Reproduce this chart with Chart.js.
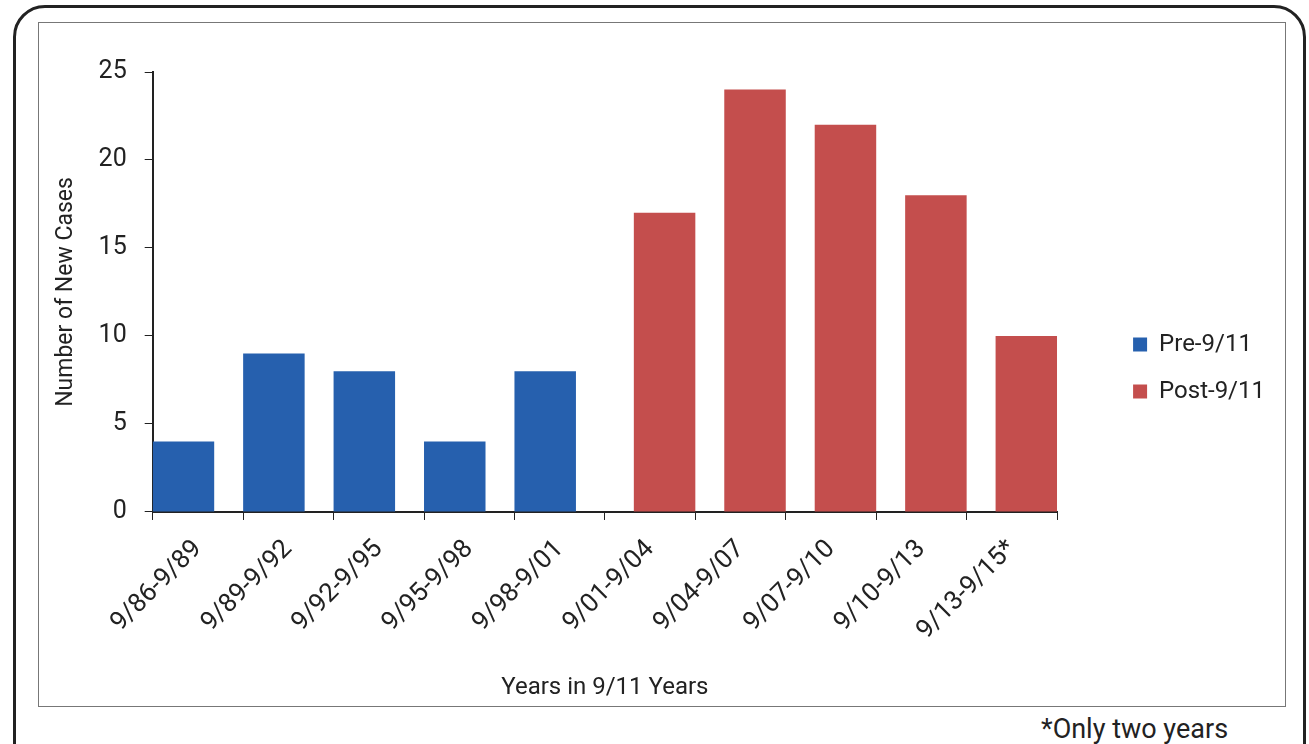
<!DOCTYPE html>
<html>
<head>
<meta charset="utf-8">
<script src="https://cdn.jsdelivr.net/npm/chart.js@4.4.0/dist/chart.umd.min.js"></script>
<style>
    html, body { margin: 0; padding: 0; background: #fff; overflow: hidden; }
    body { width: 1309px; height: 744px; position: relative; }
    .frame {
        position: absolute; left: 13px; top: 5px; width: 1287px; height: 780px;
        border: 3px solid #222; border-radius: 32px;
    }
    .inner {
        position: absolute; left: 38px; top: 22px; width: 1246px; height: 683px;
        border: 1.5px solid #777;
    }
    #chartBox { position: absolute; left: 39px; top: 23px; width: 1246px; height: 683px; }
    .note {
        position: absolute; left: 1041px; top: 713px;
        font: 27px "Roboto", sans-serif; color: #222;
    }
</style>
</head>
<body>
<div class="frame"></div>
<div class="inner"></div>
<div id="chartBox"><canvas id="chart"></canvas></div>
<div class="note">*Only two years</div>

<script>
    const periods = ['9/86-9/89', '9/89-9/92', '9/92-9/95', '9/95-9/98', '9/98-9/01',
                     '9/01-9/04', '9/04-9/07', '9/07-9/10', '9/10-9/13', '9/13-9/15*'];
    const preCases = [4, 9, 8, 4, 8, null, null, null, null, null];
    const postCases = [null, null, null, null, null, 17, 24, 22, 18, 10];
    const yTicks = [0, 5, 10, 15, 20, 25];

    const FONT = '"Roboto", sans-serif';
    const INK = '#222';

    // nudge the legend box away from the plot, like the original layout
    const legendShift = {
        id: 'legendShift',
        afterLayout(chart) {
            const lg = chart.legend;
            const dx = 53, dy = -21;
            lg.left += dx; lg.right += dx;
            lg.top += dy; lg.bottom += dy;
        }
    };

    const ctx = document.getElementById('chart').getContext('2d');
    new Chart(ctx, {
        type: 'bar',
        data: {
            labels: periods,
            datasets: [
                { label: 'Pre-9/11', data: preCases, backgroundColor: '#2660AE', borderWidth: 0 },
                { label: 'Post-9/11', data: postCases, backgroundColor: '#C44E4D', borderWidth: 0 }
            ]
        },
        plugins: [legendShift],
        options: {
            responsive: true,
            maintainAspectRatio: false,
            animation: false,
            layout: { padding: { top: 49, left: 9, right: 63, bottom: 0 } },
            // grouped + overlapping bars: pre sits to the left of each slot, post to the right
            datasets: { bar: { barPercentage: 2.125, categoryPercentage: 0.64 } },
            plugins: {
                tooltip: { enabled: false },
                legend: {
                    position: 'right',
                    labels: {
                        color: INK,
                        font: { family: FONT, size: 24 },
                        boxWidth: 14, boxHeight: 14,
                        padding: 23
                    }
                }
            },
            scales: {
                x: {
                    grid: { drawOnChartArea: false, drawTicks: true, tickLength: 8, color: INK, offset: true },
                    border: { color: INK, width: 2 },
                    ticks: { color: INK, font: { family: FONT, size: 26 }, minRotation: 45, maxRotation: 45, padding: 14 },
                    title: { display: true, text: 'Years in 9/11 Years', color: INK, font: { family: FONT, size: 24 }, padding: { top: 13 } }
                },
                y: {
                    min: 0, max: 25,
                    afterBuildTicks: (axis) => { axis.ticks = yTicks.map(v => ({ value: v })); },
                    grid: { drawOnChartArea: false, drawTicks: true, tickLength: 8, color: INK },
                    border: { color: INK, width: 2 },
                    ticks: { color: INK, font: { family: FONT, size: 25 }, padding: 18 },
                    title: { display: true, text: 'Number of New Cases', color: INK, font: { family: FONT, size: 23 }, padding: { bottom: 1 } }
                }
            }
        }
    });
</script>
</body>
</html>
